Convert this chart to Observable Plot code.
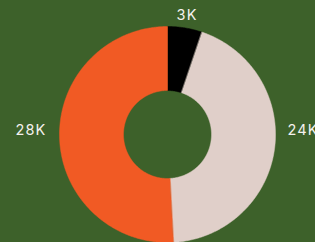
<!DOCTYPE html>
<html><head><meta charset="utf-8">
<script src="https://cdn.jsdelivr.net/npm/d3@7"></script>
<script src="https://cdn.jsdelivr.net/npm/@observablehq/plot@0.6"></script>
<style>
html,body{margin:0;padding:0;background:#3d612a;overflow:hidden;}
svg text{letter-spacing:1.2px}
</style></head><body><div id="chart"></div>
<script>
const categories = ["A", "B", "C"];
const values = [2850, 24200, 28000];
const labels = ["3K", "24K", "28K"];
const colors = ["#000000", "#e0cfc9", "#f15a24"];

const W = 315, H = 242, CX = 167, CY = 134;
const R = 108, R0 = 44, RL = 121;
const arcs = d3.pie().sort(null).value(d => d)(values);
const pts = [];
arcs.forEach((a, i) => {
  const n = Math.max(2, Math.ceil((a.endAngle - a.startAngle) / 0.01));
  for (let k = 0; k <= n; k++) {
    const t = a.startAngle + (a.endAngle - a.startAngle) * k / n;
    pts.push({cat: categories[i], x: R * Math.sin(t), y: -R * Math.cos(t)});
  }
  for (let k = n; k >= 0; k--) {
    const t = a.startAngle + (a.endAngle - a.startAngle) * k / n;
    pts.push({cat: categories[i], x: R0 * Math.sin(t), y: -R0 * Math.cos(t)});
  }
});
// side labels sit level with the donut centre; top/bottom labels follow the slice mid-angle
const lab = arcs.map((a, i) => {
  const m = (a.startAngle + a.endAngle) / 2;
  const s = Math.sin(m);
  const side = Math.abs(s) > 0.3;
  return {text: labels[i], x: RL * s, y: side ? 0 : -RL * Math.cos(m),
          anchor: s > 0.3 ? "start" : s < -0.3 ? "end" : "middle"};
});
const textMark = (anchor, dy) => Plot.text(lab.filter(d => d.anchor === anchor),
  {x: "x", y: "y", text: "text", textAnchor: anchor, fill: "#f4f1ee", fontSize: 14.5, dy});

const chart = Plot.plot({
  width: W, height: H, margin: 0,
  style: {background: "#3d612a", fontFamily: "Inter, sans-serif", fontSize: "14.5px"},
  x: {domain: [-CX, W - CX], range: [0, W], axis: null},
  y: {domain: [-CY, H - CY], range: [0, H], axis: null},
  color: {domain: categories, range: colors},
  marks: [
    Plot.line(pts, {x: "x", y: "y", z: "cat", fill: "cat", stroke: "cat", strokeWidth: 0.5, curve: "linear-closed"}),
    textMark("start", -4), textMark("end", -4), textMark("middle", 0)
  ]
});
document.getElementById("chart").append(chart);
</script></body></html>
